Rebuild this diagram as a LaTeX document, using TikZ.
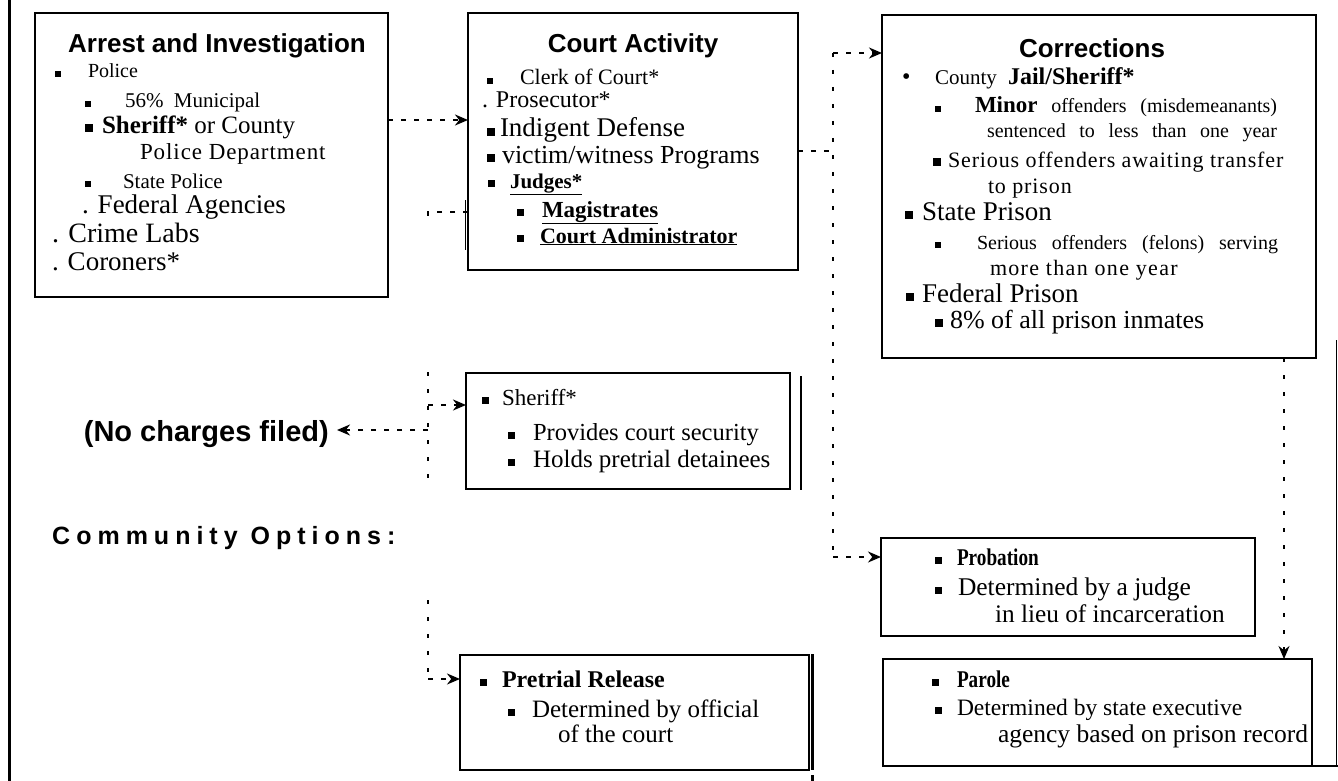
\documentclass[tikz,border=0pt]{standalone}
\usepackage{fontspec}
\setmainfont{Liberation Serif}
\setsansfont{Liberation Sans}
\usepackage{graphicx}
\usetikzlibrary{arrows.meta}
\newcommand\fs[1]{\fontsize{#1}{#1}\selectfont}
\newcommand\bl[2]{\makebox[#1pt][l]{\rule[1pt]{#2pt}{#2pt}}}
\begin{document}
\begin{tikzpicture}[x=1pt,y=-1pt,
  bigbox/.style={draw, line width=2.5pt, inner sep=0pt, outer sep=0pt, anchor=north west},
  smallbox/.style={draw, line width=1.2pt, inner sep=0pt, outer sep=0pt, anchor=north west},
  txt/.style={anchor=base west, inner sep=0pt, outer sep=0pt},
  ttl/.style={anchor=base, inner sep=0pt, outer sep=0pt, font=\sffamily\bfseries\fs{26}},
  hdash/.style={line width=2.2pt, dash pattern=on 5pt off 8pt},
  vdash/.style={line width=1.8pt, dash pattern=on 4pt off 13pt},
  arr/.style={-{Stealth[length=13pt,width=11pt]}},
  bar/.style={line width=2.5pt}]
\useasboundingbox (0,0) rectangle (1338,781);

% frame lines
\draw[line width=3pt] (9,0) -- (9,781);
\draw[line width=1pt] (1336,340) -- (1336,766);

% boxes
\node[bigbox, minimum width=353pt, minimum height=284pt] (arrest) at (35,13) {};
\node[bigbox, minimum width=330pt, minimum height=257pt] (court) at (468,13) {};
\node[bigbox, minimum width=434pt, minimum height=343pt] (corr) at (882,15) {};
\node[smallbox, minimum width=324pt, minimum height=116pt] (sheriff) at (466,373) {};
\node[smallbox, minimum width=349pt, minimum height=115pt] (pretrial) at (460,655) {};
\node[smallbox, minimum width=374pt, minimum height=98pt] (prob) at (881,538) {};
\node[smallbox, minimum width=429pt, minimum height=107pt] (parole) at (883,659) {};

% extra bars
\draw[bar] (801,376) -- (801,490);
\draw[line width=3pt] (812,654) -- (812,770);
\draw[line width=3pt] (812,775) -- (812,781);
\draw[line width=1pt] (465,200) -- (465,250);
\draw[bar] (parole.east |- 0,766) -- (1338,766);

% Arrest and Investigation
\node[ttl] (a0) at (217,53) {Arrest and Investigation};
\node[txt, font=\fs{20}] (a1) at (55,78) {\bl{33}{6}Police};
\node[txt, font=\fs{21}] (a2) at (85,108) {\bl{40}{6}56\%\ \ Municipal};
\node[txt, font=\fs{25}] (a3) at (85,133) {\bl{17}{8}\textbf{Sheriff*} or County};
\node[txt, font={\fs{23}\addfontfeature{LetterSpace=4}}] (a4) at (140,160) {Police Department};
\node[txt, font=\fs{21}] (a5) at (85,188) {\bl{38}{6}State Police};
\node[txt, font=\fs{27}] (a6) at (82,213) {. Federal Agencies};
\node[txt, font=\fs{28}] (a7) at (52,242) {. Crime Labs};
\node[txt, font=\fs{27}] (a8) at (52,270) {. Coroners*};

% Court Activity
\node[ttl] (b0) at (633,53) {Court Activity};
\node[txt, font=\fs{22}] (b1) at (487,85) {\bl{33}{6}Clerk of Court*};
\node[txt, font=\fs{24}] (b2) at (482,108) {. Prosecutor*};
\node[txt, font=\fs{27}] (b3) at (487,137) {\bl{13}{8}Indigent Defense};
\node[txt, font=\fs{26}] (b4) at (487,163) {\bl{15}{8}victim/witness Programs};
\node[txt, font=\fs{21}] (b5) at (488,188) {\bl{22}{7}\underline{\textbf{Judges*}}};
\node[txt, font=\fs{23}] (b6) at (517,217) {\bl{25}{7}\underline{\textbf{Magistrates}}};
\node[txt, font=\fs{22}] (b7) at (517,243) {\bl{23}{7}\underline{\textbf{Court Administrator}}};

% Corrections
\node[ttl] (c0) at (1092,58) {Corrections};
\node[txt, font=\fs{21}] (c1) at (902,85) {\makebox[33pt][l]{\fs{24}•}\makebox[73pt][l]{County}{\bfseries\fs{24}Jail/Sheriff*}};
\node[txt, font=\fs{20}] (c2) at (935,113) {\bl{40}{6}\makebox[302pt][s]{{\fs{23}\textbf{Minor}} offenders (misdemeanants)}};
\node[txt, font=\fs{20}] (c3) at (987,138) {\makebox[290pt][s]{sentenced to less than one year}};
\node[txt, font={\fs{22}\addfontfeature{LetterSpace=4}}] (c4) at (933,167) {\bl{15}{8}Serious offenders awaiting transfer};
\node[txt, font={\fs{22}\addfontfeature{LetterSpace=4}}] (c5) at (988,193) {to prison};
\node[txt, font=\fs{27}] (c6) at (905,220) {\bl{17}{8}State Prison};
\node[txt, font=\fs{20}] (c7) at (935,249) {\bl{42}{6}\makebox[301pt][s]{Serious offenders (felons) serving}};
\node[txt, font={\fs{22}\addfontfeature{LetterSpace=6}}] (c8) at (990,275) {more than one year};
\node[txt, font=\fs{27}] (c9) at (906,302) {\bl{16}{8}Federal Prison};
\node[txt, font=\fs{26}] (c10) at (935,328) {\bl{15}{8}8\% of all prison inmates};

% Sheriff
\node[txt, font=\fs{23}] (d1) at (482,405) {\bl{20}{7}Sheriff*};
\node[txt, font=\fs{24.5}] (d2) at (508,440) {\bl{25}{7}Provides court security};
\node[txt, font=\fs{25}] (d3) at (508,467) {\bl{25}{7}Holds pretrial detainees};

% Pretrial
\node[txt, font=\fs{24}] (e1) at (480,687) {\bl{22}{7}\textbf{Pretrial Release}};
\node[txt, font=\fs{25}] (e2) at (508,717) {\bl{24}{7}Determined by official};
\node[txt, font=\fs{25}] (e3) at (558,742) {of the court};

% Probation
\node[txt, font=\fs{24}] (f1) at (935,565) {\bl{22}{7}\scalebox{0.8}[1]{\textbf{Probation}}};
\node[txt, font=\fs{25.5}] (f2) at (935,595) {\bl{23}{7}Determined by a judge};
\node[txt, font=\fs{25.3}] (f3) at (995,622) {in lieu of incarceration};

% Parole
\node[txt, font=\fs{24}] (g1) at (932,687) {\bl{25}{7}\scalebox{0.8}[1]{\textbf{Parole}}};
\node[txt, font=\fs{23.5}] (g2) at (935,715) {\bl{22}{7}Determined by state executive};
\node[txt, font=\fs{25.5}] (g3) at (998,742) {agency based on prison record};

% free labels
\node[anchor=base east, inner sep=0pt, font=\sffamily\bfseries\fs{29}] (nocharges) at (329,441) {(No charges filed)};
\node[anchor=base west, inner sep=0pt, font={\sffamily\bfseries\fs{25}\addfontfeature{LetterSpace=24}}] (community) at (52,544) {Community Options:};

% junction coordinates
\coordinate (ya) at (0,120);
\coordinate (jL) at (428,212);
\coordinate (jLt) at (428,372);
\coordinate (jLb) at (428,488);
\coordinate (jS) at (428,405);
\coordinate (jN) at (428,430);
\coordinate (jP1) at (428,600);
\coordinate (jP) at (428,679);
\coordinate (jR) at (833,151);
\coordinate (jRt) at (833,53);
\coordinate (jRb) at (833,557);
\coordinate (jD) at (1284,0);
\coordinate (nctip) at (337,430);

% connectors
\draw[hdash, arr] (arrest.east |- ya) -- (court.west |- ya);
\draw[hdash] (court.west |- jL) -- (jL) -- ++(0,6);
\draw[vdash] (jLt) -- (jLb);
\draw[hdash, arr] (jS) -- (sheriff.west |- jS);
\draw[hdash, arr] (jN) -- (nctip);
\draw[vdash] (jP1) -- (jP);
\draw[hdash, arr] (jP) -- (pretrial.west |- jP);
\draw[hdash] (court.east |- jR) -- (jR);
\draw[vdash] (jRt) -- (jRb);
\draw[hdash, arr] (jRt) -- (corr.west |- jRt);
\draw[hdash, arr] (jRb) -- (prob.west |- jRb);
\draw[vdash, arr] (corr.south -| jD) -- (parole.north -| jD);
\end{tikzpicture}
\end{document}
